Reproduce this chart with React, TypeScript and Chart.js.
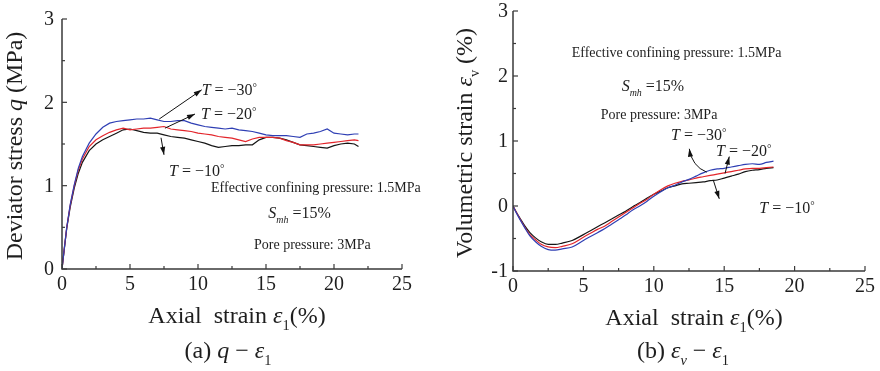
import React, { useEffect, useRef } from "react";
import { Chart, registerables } from "chart.js";

Chart.register(...registerables);

// ---------- data: (a) deviator stress q vs axial strain ----------
const qStrain = [0, 0.15, 0.35, 0.6, 0.9, 1.2, 1.5, 2.0, 2.5, 3.0, 3.5, 4.0, 4.5, 5.0, 5.5, 6.0, 6.5, 7.0, 7.5, 8.0, 8.5, 9.0, 9.5, 10.0, 10.5, 11.0, 11.5, 12.0, 12.5, 13.0, 13.5, 14.0, 14.5, 15.0, 15.5, 16.0, 16.5, 17.0, 17.5, 18.0, 18.5, 19.0, 19.5, 20.0, 20.5, 21.0, 21.5, 21.8];
const qT30 = [0, 0.22, 0.5, 0.77, 1.01, 1.21, 1.35, 1.51, 1.62, 1.7, 1.75, 1.77, 1.78, 1.79, 1.8, 1.8, 1.81, 1.79, 1.77, 1.77, 1.78, 1.78, 1.75, 1.73, 1.71, 1.7, 1.69, 1.68, 1.69, 1.67, 1.66, 1.65, 1.63, 1.61, 1.6, 1.6, 1.6, 1.59, 1.58, 1.62, 1.63, 1.65, 1.68, 1.63, 1.62, 1.61, 1.62, 1.62];
const qT20 = [0, 0.22, 0.5, 0.76, 1.0, 1.19, 1.32, 1.47, 1.55, 1.6, 1.64, 1.67, 1.69, 1.67, 1.68, 1.69, 1.69, 1.7, 1.71, 1.68, 1.67, 1.66, 1.65, 1.63, 1.62, 1.61, 1.59, 1.58, 1.57, 1.55, 1.53, 1.56, 1.58, 1.58, 1.58, 1.57, 1.54, 1.52, 1.49, 1.49, 1.49, 1.5, 1.51, 1.52, 1.53, 1.54, 1.55, 1.54];
const qT10 = [0, 0.21, 0.49, 0.74, 0.97, 1.15, 1.28, 1.42, 1.5, 1.55, 1.59, 1.63, 1.67, 1.68, 1.66, 1.64, 1.63, 1.63, 1.61, 1.59, 1.58, 1.57, 1.55, 1.53, 1.51, 1.48, 1.46, 1.47, 1.48, 1.48, 1.49, 1.49, 1.55, 1.58, 1.58, 1.57, 1.55, 1.52, 1.49, 1.48, 1.47, 1.46, 1.45, 1.48, 1.5, 1.51, 1.5, 1.47];

// ---------- data: (b) volumetric strain vs axial strain ----------
const vStrain = [0, 0.25, 0.5, 0.85, 1.2, 1.6, 2.0, 2.5, 3.0, 3.5, 4.2, 5.0, 5.5, 6.0, 6.5, 7.0, 7.5, 8.0, 8.5, 9.0, 9.5, 10.0, 10.5, 11.0, 11.5, 12.0, 12.5, 13.0, 13.5, 14.0, 14.5, 15.0, 15.5, 16.0, 16.5, 17.0, 17.5, 18.0, 18.5];
const vT30 = [0, -0.11, -0.21, -0.34, -0.46, -0.55, -0.62, -0.67, -0.68, -0.66, -0.63, -0.53, -0.47, -0.41, -0.35, -0.28, -0.21, -0.14, -0.06, 0.0, 0.07, 0.15, 0.22, 0.28, 0.32, 0.37, 0.41, 0.46, 0.51, 0.55, 0.57, 0.58, 0.6, 0.62, 0.64, 0.65, 0.64, 0.67, 0.69];
const vT20 = [0, -0.1, -0.2, -0.33, -0.44, -0.52, -0.59, -0.63, -0.64, -0.62, -0.58, -0.48, -0.42, -0.36, -0.31, -0.24, -0.17, -0.1, -0.03, 0.04, 0.1, 0.18, 0.25, 0.31, 0.35, 0.38, 0.4, 0.43, 0.45, 0.47, 0.49, 0.51, 0.53, 0.55, 0.57, 0.58, 0.58, 0.59, 0.6];
const vT10 = [0, -0.1, -0.19, -0.31, -0.41, -0.49, -0.55, -0.59, -0.59, -0.57, -0.53, -0.44, -0.38, -0.32, -0.26, -0.2, -0.14, -0.08, -0.01, 0.05, 0.12, 0.18, 0.23, 0.28, 0.31, 0.34, 0.35, 0.36, 0.37, 0.39, 0.4, 0.43, 0.46, 0.49, 0.53, 0.55, 0.56, 0.58, 0.59];

// ---------- ticks / labels ----------
const strainTicks = [0, 5, 10, 15, 20, 25];
const qTicks = [0, 1, 2, 3];
const vTicks = [-1, 0, 1, 2, 3];
const seriesNames = ["T = −30°", "T = −20°", "T = −10°"];
const seriesColors = ["#2f3fb4", "#e3252b", "#151515"];

const FONT = '"Liberation Serif", "Times New Roman", serif';
const TEXT = "#1e1e1e";

type Seg = { t: string; it?: boolean; s?: number; dy?: number };

function fontOf(size: number, it?: boolean) {
  return `${it ? "italic " : ""}${size}px ${FONT}`;
}

function drawRich(ctx: CanvasRenderingContext2D, segs: Seg[], x: number, y: number, size: number, align: "left" | "center" | "right") {
  const widths = segs.map((s) => {
    ctx.font = fontOf(size * (s.s || 1), s.it);
    return ctx.measureText(s.t).width;
  });
  const total = widths.reduce((a, b) => a + b, 0);
  let cx = align === "center" ? x - total / 2 : align === "right" ? x - total : x;
  ctx.textAlign = "left";
  ctx.textBaseline = "alphabetic";
  segs.forEach((s, i) => {
    ctx.font = fontOf(size * (s.s || 1), s.it);
    ctx.fillText(s.t, cx, y + (s.dy || 0) * size);
    cx += widths[i];
  });
}

function tSegs(name: string): Seg[] {
  const body = name.replace("T", "").replace("°", "");
  return [{ t: "T", it: true }, { t: body }, { t: "°", s: 0.7, dy: -0.25 }];
}

function arrowHead(ctx: CanvasRenderingContext2D, fx: number, fy: number, tx: number, ty: number) {
  const ang = Math.atan2(ty - fy, tx - fx);
  const L = 8, W = 2.6;
  ctx.beginPath();
  ctx.moveTo(tx, ty);
  ctx.lineTo(tx - L * Math.cos(ang) + W * Math.sin(ang), ty - L * Math.sin(ang) - W * Math.cos(ang));
  ctx.lineTo(tx - L * Math.cos(ang) - W * Math.sin(ang), ty - L * Math.sin(ang) + W * Math.cos(ang));
  ctx.closePath();
  ctx.fill();
}

const decorPlugin = {
  id: "decor",
  afterDraw(chart: any, _args: any, o: any) {
    const ctx: CanvasRenderingContext2D = chart.ctx;
    const xs = chart.scales.x;
    const ys = chart.scales.y;
    const { left, right, top, bottom } = chart.chartArea;
    ctx.save();
    // axes
    ctx.strokeStyle = "#3a3a3a";
    ctx.lineWidth = 1.5;
    ctx.beginPath();
    ctx.moveTo(left, top);
    ctx.lineTo(left, bottom);
    ctx.lineTo(right, bottom);
    ctx.stroke();
    ctx.lineWidth = 1.2;
    // x ticks (inward)
    for (let v = xs.min; v <= xs.max + 1e-9; v += o.xMinor) {
      const px = xs.getPixelForValue(v);
      const major = Math.abs(v / o.xMajor - Math.round(v / o.xMajor)) < 1e-6;
      ctx.beginPath();
      ctx.moveTo(px, bottom);
      ctx.lineTo(px, bottom - (major ? 5 : 3));
      ctx.stroke();
    }
    for (let v = ys.min; v <= ys.max + 1e-9; v += o.yMinor) {
      const py = ys.getPixelForValue(v);
      const major = Math.abs(v / o.yMajor - Math.round(v / o.yMajor)) < 1e-6;
      ctx.beginPath();
      ctx.moveTo(left, py);
      ctx.lineTo(left + (major ? 5 : 3), py);
      ctx.stroke();
    }
    ctx.fillStyle = TEXT;
    // tick labels
    ctx.font = fontOf(20);
    ctx.textAlign = "center";
    ctx.textBaseline = "alphabetic";
    o.xTicks.forEach((v: number) => ctx.fillText(String(v), xs.getPixelForValue(v), bottom + 21));
    ctx.textAlign = "right";
    ctx.textBaseline = "middle";
    o.yTicks.forEach((v: number) => ctx.fillText(String(v).replace("−", "-"), left - o.yLabelGap, ys.getPixelForValue(v) + 1));
    // x title & caption
    const cxm = (left + right) / 2;
    drawRich(ctx, o.xTitle, cxm + o.xTitleDx, o.xTitleY, 24, "center");
    drawRich(ctx, o.caption, cxm + o.captionDx, o.captionY, 24, "center");
    // y title
    ctx.save();
    ctx.translate(o.yTitleX, (top + bottom) / 2 + o.yTitleDy);
    ctx.rotate(-Math.PI / 2);
    drawRich(ctx, o.yTitle, 0, 0, 24, "center");
    ctx.restore();
    // annotations
    o.notes.forEach((n: any) => {
      drawRich(ctx, n.segs, xs.getPixelForValue(n.x), ys.getPixelForValue(n.y), n.size, "left");
    });
    // arrows
    ctx.strokeStyle = "#111";
    ctx.fillStyle = "#111";
    ctx.lineWidth = 1;
    o.arrows.forEach((a: any) => {
      const fx = xs.getPixelForValue(a.from[0]);
      const fy = ys.getPixelForValue(a.from[1]);
      const tx = xs.getPixelForValue(a.to[0]);
      const ty = ys.getPixelForValue(a.to[1]);
      ctx.beginPath();
      ctx.moveTo(fx, fy);
      if (a.via) {
        const vx = xs.getPixelForValue(a.via[0]);
        const vy = ys.getPixelForValue(a.via[1]);
        ctx.quadraticCurveTo(vx, vy, tx, ty);
        ctx.stroke();
        arrowHead(ctx, vx, vy, tx, ty);
      } else {
        ctx.lineTo(tx, ty);
        ctx.stroke();
        arrowHead(ctx, fx, fy, tx, ty);
      }
    });
    ctx.restore();
  },
};

const ecpSegs: Seg[] = [{ t: "Effective confining pressure: 1.5MPa" }];
const smhSegs: Seg[] = [{ t: "S", it: true }, { t: "mh", it: true, s: 0.62, dy: 0.3 }, { t: " =15%" }];
const poreSegs: Seg[] = [{ t: "Pore pressure: 3MPa" }];
const strainTitle: Seg[] = [{ t: "Axial  strain " }, { t: "ε", it: true }, { t: "1", s: 0.6, dy: 0.28 }, { t: "(%)" }];

function makeDatasets(xv: number[], ys: number[][], tension: number) {
  return ys.map((arr, i) => ({
    label: seriesNames[i],
    data: xv.map((x, j) => ({ x, y: arr[j] })),
    borderColor: seriesColors[i],
    backgroundColor: seriesColors[i],
    borderWidth: 1.2,
    pointRadius: 0,
    tension,
    cubicInterpolationMode: tension > 0 ? "monotone" : "default",
    fill: false,
  }));
}

function baseOptions(pad: any, ymin: number, ymax: number, decor: any) {
  return {
    responsive: false,
    animation: false,
    devicePixelRatio: 1,
    layout: { padding: pad },
    plugins: { legend: { display: false }, tooltip: { enabled: false }, title: { display: false }, decor },
    scales: {
      x: { type: "linear", min: 0, max: 25, display: false },
      y: { type: "linear", min: ymin, max: ymax, display: false },
    },
  };
}

function configA(): any {
  return {
    type: "line",
    data: { datasets: [...makeDatasets(qStrain, [qT10, qT20, qT30].reverse(), 0)].slice(0) },
    options: baseOptions({ left: 62, right: 38, top: 19, bottom: 102 }, 0, 3, {
      xMinor: 2.5, xMajor: 5, yMinor: 0.5, yMajor: 1,
      xTicks: strainTicks, yTicks: qTicks, yLabelGap: 8,
      xTitle: strainTitle, xTitleDx: 5, xTitleY: 323,
      caption: [{ t: "(a) " }, { t: "q", it: true }, { t: " − " }, { t: "ε", it: true }, { t: "1", s: 0.6, dy: 0.28 }],
      captionDx: -4, captionY: 358,
      yTitle: [{ t: "Deviator stress " }, { t: "q", it: true }, { t: " (MPa)" }], yTitleX: 22, yTitleDy: 2,
      notes: [
        { x: 10.27, y: 2.09, size: 16, segs: tSegs(seriesNames[0]) },
        { x: 10.22, y: 1.8, size: 16, segs: tSegs(seriesNames[1]) },
        { x: 7.87, y: 1.12, size: 16, segs: tSegs(seriesNames[2]) },
        { x: 10.96, y: 0.93, size: 14, segs: ecpSegs },
        { x: 15.17, y: 0.61, size: 16, segs: smhSegs },
        { x: 14.12, y: 0.24, size: 14, segs: poreSegs },
      ],
      arrows: [
        { from: [7.15, 1.8], to: [10.27, 2.15] },
        { from: [7.57, 1.69], to: [9.78, 1.86] },
        { from: [7.28, 1.575], to: [7.5, 1.37] },
      ],
    }),
    plugins: [decorPlugin],
  };
}

function configB(): any {
  return {
    type: "line",
    data: { datasets: makeDatasets(vStrain, [vT30, vT20, vT10], 0.4) },
    options: baseOptions({ left: 73, right: 15, top: 11, bottom: 100 }, -1, 3, {
      xMinor: 2.5, xMajor: 5, yMinor: 0.5, yMajor: 1,
      xTicks: strainTicks, yTicks: vTicks, yLabelGap: 5,
      xTitle: strainTitle, xTitleDx: 5, xTitleY: 325,
      caption: [{ t: "(b) " }, { t: "ε", it: true }, { t: "v", it: true, s: 0.6, dy: 0.28 }, { t: " − " }, { t: "ε", it: true }, { t: "1", s: 0.6, dy: 0.28 }],
      captionDx: -6, captionY: 358,
      yTitle: [{ t: "Volumetric strain " }, { t: "ε", it: true }, { t: "v", s: 0.6, dy: 0.28 }, { t: " (%)" }], yTitleX: 32, yTitleDy: 2,
      notes: [
        { x: 4.17, y: 2.29, size: 14, segs: ecpSegs },
        { x: 7.72, y: 1.77, size: 16, segs: smhSegs },
        { x: 6.23, y: 1.34, size: 14, segs: poreSegs },
        { x: 11.22, y: 1.02, size: 16, segs: tSegs(seriesNames[0]) },
        { x: 14.42, y: 0.77, size: 16, segs: tSegs(seriesNames[1]) },
        { x: 17.49, y: -0.1, size: 16, segs: tSegs(seriesNames[2]) },
      ],
      arrows: [
        { from: [13.76, 0.52], via: [12.71, 0.61], to: [12.52, 0.88] },
        { from: [15.06, 0.5], to: [15.36, 0.76] },
        { from: [14.23, 0.395], to: [14.65, 0.11] },
      ],
    }),
    plugins: [decorPlugin],
  };
}

function Panel({ make, left }: { make: () => any; left: number }) {
  const ref = useRef<HTMLCanvasElement>(null);
  useEffect(() => {
    const chart = new Chart(ref.current as HTMLCanvasElement, make());
    return () => chart.destroy();
  }, []);
  return (
    <canvas
      ref={ref}
      width={440}
      height={371}
      style={{ position: "absolute", left, top: 0, width: 440, height: 371 }}
    />
  );
}

export default function App() {
  return (
    <div style={{ position: "fixed", left: 0, top: 0, width: 880, height: 371, background: "#fff", overflow: "hidden" }}>
      <Panel make={configA} left={0} />
      <Panel make={configB} left={440} />
    </div>
  );
}
